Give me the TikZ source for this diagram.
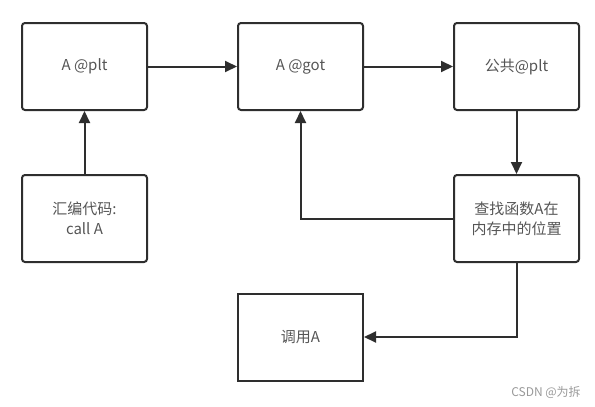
\documentclass[tikz,border=0pt]{standalone}
\usepackage{fontspec}
\setmainfont{Noto Sans CJK SC}
\usetikzlibrary{arrows.meta}
\definecolor{linegray}{HTML}{2E2E2E}
\definecolor{textgray}{HTML}{555555}
\definecolor{markgray}{HTML}{999999}

\begin{document}
\begin{tikzpicture}[x=1pt,y=-1pt]
        \useasboundingbox (0,0) rectangle (595,407);

        \begin{scope}[every node/.style={draw=linegray, line width=2pt, rounded corners=3pt,
            minimum width=125pt, minimum height=87pt, align=center, text=textgray,
            font=\fontsize{15}{20}\selectfont}]
          \node (1) at (84.5,66.5)  {A @plt};
          \node (2) at (300.5,66.5) {A @got};
          \node (3) at (516.5,66.5) {公共@plt};
          \node (4) at (84.5,218.5) {汇编代码:\\ call A};
          \node (5) at (516.5,218.5) {查找函数A在\\内存中的位置};
          \node[sharp corners] (6) at (300.5,337) {调用A};
        \end{scope}

        \begin{scope}[line width=2pt, every edge/.style={draw=linegray, line width=2pt,
            -{Triangle[length=12pt,width=11pt]}}]
          \path (1) edge (2);
          \path (2) edge (3);
          \path (4) edge (1);
          \path (3) edge (5);
          \path (5) edge[to path={-| (\tikztotarget)}] (2);
          \path (5) edge[to path={|- (\tikztotarget)}] (6);
        \end{scope}

        \node[text=markgray, font=\fontsize{12}{14}\selectfont] (7) at (546,392) {CSDN @为拆};

      \end{tikzpicture}
\end{document}
